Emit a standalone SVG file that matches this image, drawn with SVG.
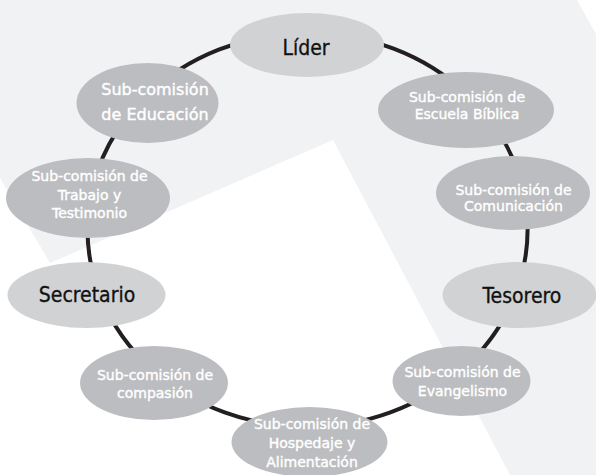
<svg xmlns="http://www.w3.org/2000/svg" width="596" height="475" viewBox="0 0 596 475">
<style>
.bg{fill:#f1f2f4}
.sub{fill:#bcbdc0}
.role{fill:#d1d2d4}
.edge{fill:none;stroke:#231f20;stroke-width:4;stroke-linecap:butt}
.wt{font-family:"DejaVu Sans","Liberation Sans",sans-serif;font-size:14px;fill:#ffffff;stroke:#ffffff;stroke-width:0.4;text-anchor:middle}
.bt{font-family:"DejaVu Sans Condensed","DejaVu Sans",sans-serif;font-size:21px;fill:#111111;stroke:#111111;stroke-width:0.3;text-anchor:middle}
</style>
<rect x="0" y="0" width="596" height="475" fill="#ffffff"/>
<polygon class="bg" points="0,0 577,0 596,34 596,475 510,475 333,140 50,263 0,178"/>
<g id="connectors">
<path class="edge" d="M307.5,33 A220,197 0 0 1 466,93.4"/>
<path class="edge" d="M466,93.4 A220,197 0 0 1 523.6,193"/>
<path class="edge" d="M523.6,193 A220,197 0 0 1 515,295"/>
<path class="edge" d="M515,295 A220,197 0 0 1 462,370"/>
<path class="edge" d="M462,370 A220,197 0 0 1 307.5,427"/>
<path class="edge" d="M307.5,427 A220,197 0 0 1 154,371"/>
<path class="edge" d="M154,371 A220,197 0 0 1 100,295"/>
<path class="edge" d="M100,295 A220,197 0 0 1 90.5,198"/>
<path class="edge" d="M90.5,198 A220,197 0 0 1 145,97"/>
<path class="edge" d="M145,97 A220,197 0 0 1 307.5,33"/>
</g>
<g id="lider">
<ellipse class="role" cx="307" cy="45" rx="77" ry="32"/>
<text class="bt" x="306" y="55">Líder</text>
</g>
<g id="escuela">
<ellipse class="sub" cx="466" cy="110" rx="88" ry="38"/>
<text class="wt" x="467" y="102">Sub-comisión de</text>
<text class="wt" x="467" y="119">Escuela Bíblica</text>
</g>
<g id="comunicacion">
<ellipse class="sub" cx="513" cy="193" rx="77" ry="37"/>
<text class="wt" x="513.5" y="195">Sub-comisión de</text>
<text class="wt" x="513.5" y="211">Comunicación</text>
</g>
<g id="tesorero">
<ellipse class="role" cx="519.5" cy="295" rx="77" ry="33"/>
<text class="bt" x="522" y="303">Tesorero</text>
</g>
<g id="evangelismo">
<ellipse class="sub" cx="461.5" cy="381" rx="69" ry="35"/>
<text class="wt" x="462.5" y="377">Sub-comisión de</text>
<text class="wt" x="462.5" y="396">Evangelismo</text>
</g>
<g id="hospedaje">
<ellipse class="sub" cx="309.5" cy="442" rx="78" ry="35"/>
<text class="wt" x="312" y="429">Sub-comisión de</text>
<text class="wt" x="312" y="448">Hospedaje y</text>
<text class="wt" x="312" y="467">Alimentación</text>
</g>
<g id="compasion">
<ellipse class="sub" cx="154" cy="383" rx="74" ry="37"/>
<text class="wt" x="155" y="380">Sub-comisión de</text>
<text class="wt" x="155" y="398">compasión</text>
</g>
<g id="secretario">
<ellipse class="role" cx="86.5" cy="295" rx="79" ry="33"/>
<text class="bt" x="87" y="302">Secretario</text>
</g>
<g id="trabajo">
<ellipse class="sub" cx="88" cy="198" rx="82" ry="40"/>
<text class="wt" x="89.5" y="181">Sub-comisión de</text>
<text class="wt" x="89.5" y="200">Trabajo y</text>
<text class="wt" x="89.5" y="218">Testimonio</text>
</g>
<g id="educacion">
<ellipse class="sub" cx="147.5" cy="103" rx="71" ry="40"/>
<text class="wt" x="155" y="95" style="font-size:16px">Sub-comisión</text>
<text class="wt" x="155" y="120" style="font-size:16px">de Educación</text>
</g>
</svg>
